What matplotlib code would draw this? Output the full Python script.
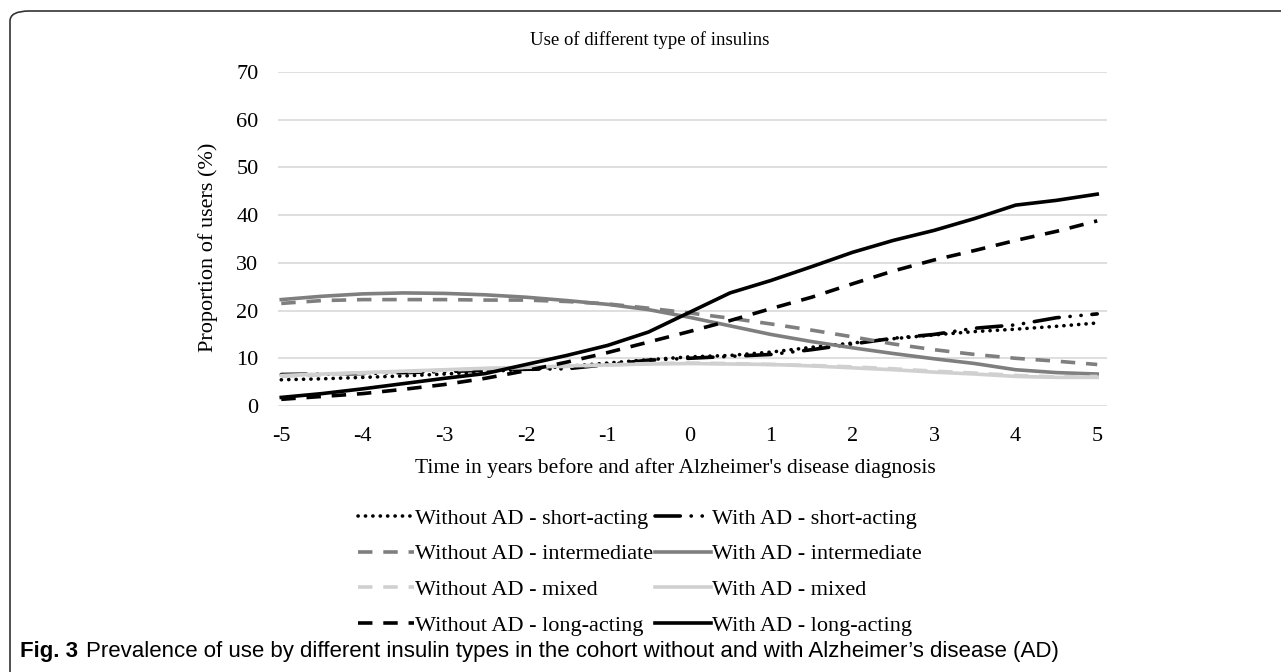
import matplotlib
matplotlib.use("Agg")
import matplotlib.pyplot as plt
from matplotlib.patches import FancyBboxPatch

# years relative to diagnosis
years = [-5, -4.5, -4, -3.5, -3, -2.5, -2, -1.5, -1, -0.5, 0,
         0.5, 1, 1.5, 2, 2.5, 3, 3.5, 4, 4.5, 5]

# proportion of users (%)
without_short = [5.5, 5.7, 6.0, 6.3, 6.7, 7.2, 7.7, 8.3, 9.0, 9.7, 10.3,
                 10.6, 11.3, 12.3, 13.2, 14.1, 14.9, 15.6, 16.1, 16.7, 17.4]
with_short = [6.6, 6.7, 6.8, 7.0, 7.2, 7.5, 7.7, 7.8, 8.7, 9.6, 10.0,
              10.4, 10.8, 11.8, 13.0, 14.2, 15.0, 16.3, 17.0, 18.5, 19.3]
without_inter = [21.5, 22.1, 22.3, 22.3, 22.3, 22.2, 22.2, 21.9, 21.4, 20.5, 19.5,
                 18.4, 17.2, 15.9, 14.5, 13.0, 11.8, 10.8, 10.0, 9.4, 8.7]
with_inter = [22.3, 23.0, 23.5, 23.7, 23.6, 23.3, 22.8, 22.1, 21.3, 20.2, 18.6,
              16.8, 15.0, 13.5, 12.2, 11.0, 9.9, 8.9, 7.6, 7.0, 6.7]
without_mixed = [6.2, 6.5, 6.9, 7.2, 7.5, 7.8, 8.1, 8.3, 8.6, 8.9, 9.0,
                 8.9, 8.7, 8.5, 8.2, 7.8, 7.3, 6.9, 6.4, 6.1, 6.2]
with_mixed = [6.4, 6.7, 7.0, 7.3, 7.6, 7.9, 8.1, 8.4, 8.6, 8.8, 8.9,
              8.8, 8.7, 8.4, 8.0, 7.6, 7.1, 6.7, 6.2, 6.0, 6.0]
without_long = [1.4, 2.0, 2.6, 3.5, 4.5, 5.8, 7.4, 9.2, 11.2, 13.4, 15.6,
                17.9, 20.4, 22.8, 25.6, 28.3, 30.6, 32.6, 34.7, 36.6, 38.8]
with_long = [1.8, 2.6, 3.6, 4.7, 5.8, 6.8, 8.7, 10.6, 12.7, 15.5, 19.6,
             23.7, 26.3, 29.2, 32.2, 34.7, 36.8, 39.3, 42.1, 43.1, 44.4]

plt.rcParams['font.family'] = ['Liberation Serif', 'DejaVu Serif']
plt.rcParams['axes.unicode_minus'] = False

fig = plt.figure(figsize=(12.81, 6.72), dpi=100)
ax = fig.add_axes([278 / 1281, 1 - 406 / 672, (1107 - 278) / 1281, (406 - 72) / 672])

black = "#000000"
grey = "#7f7f7f"
light = "#d0d0d0"
lw = 2.6

l1, = ax.plot(years, without_short, color=black, lw=lw, linestyle=(0, (0.05, 2.0)),
              dash_capstyle='round', label="Without AD - short-acting")
l5, = ax.plot(years, with_short, color=black, lw=lw, linestyle=(0, (7, 3, 0.05, 3, 0.05, 3)),
              dash_capstyle='round', label="With AD - short-acting")
l2, = ax.plot(years, without_inter, color=grey, lw=lw, linestyle=(0, (4, 3)),
              label="Without AD - intermediate")
l6, = ax.plot(years, with_inter, color=grey, lw=lw, label="With AD - intermediate")
l3, = ax.plot(years, without_mixed, color=light, lw=lw, linestyle=(0, (4, 3)),
              label="Without AD - mixed")
l7, = ax.plot(years, with_mixed, color=light, lw=lw, label="With AD - mixed")
l4, = ax.plot(years, without_long, color=black, lw=lw, linestyle=(0, (4, 3)),
              label="Without AD - long-acting")
l8, = ax.plot(years, with_long, color=black, lw=lw, label="With AD - long-acting")

ax.set_xlim(-5.04, 5.12)
ax.set_ylim(0, 70)
ax.set_xticks(range(-5, 6))
ax.set_yticks(range(0, 71, 10))
ax.tick_params(length=0, labelsize=16)
ax.tick_params(axis='y', pad=14)
ax.tick_params(axis='x', pad=15)
ax.grid(axis='y', color='#d9d9d9', lw=1.2)
ax.set_axisbelow(True)
for s in ax.spines.values():
    s.set_visible(False)

fig.text(650 / 1281, 1 - 40 / 672, "Use of different type of insulins",
         ha='center', va='center', fontsize=13.5)
fig.text(675 / 1281, 1 - 468 / 672,
         "Time in years before and after Alzheimer's disease diagnosis",
         ha='center', va='center', fontsize=15.5)
fig.text(208 / 1281, 1 - 247 / 672, "Proportion of users (%)",
         ha='center', va='center', rotation=90, fontsize=16)

fig.legend(handles=[l1, l2, l3, l4, l5, l6, l7, l8], ncol=2, loc='center',
           bbox_to_anchor=(640 / 1281, 1 - 572 / 672), frameon=False,
           fontsize=16, handlelength=2.5, handletextpad=0.05,
           columnspacing=0.1, labelspacing=0.68)

# rounded frame and caption
frame = FancyBboxPatch((10 / 1281, -0.05), 1.2, 1 - 11 / 672 + 0.05,
                       boxstyle="round,pad=0,rounding_size=0.015",
                       transform=fig.transFigure, fill=False, ec='#333333', lw=1.2)
fig.add_artist(frame)

cap_font = ['Liberation Sans', 'DejaVu Sans']
fig.text(20 / 1281, 1 - 651 / 672, "Fig. 3", fontweight='bold', fontsize=16,
         family=cap_font, ha='left', va='center')
fig.text(86 / 1281, 1 - 651 / 672,
         "Prevalence of use by different insulin types in the cohort without and with Alzheimer\u2019s disease (AD)",
         fontsize=16, family=cap_font, ha='left', va='center')

fig.savefig("out.png", dpi=100)
